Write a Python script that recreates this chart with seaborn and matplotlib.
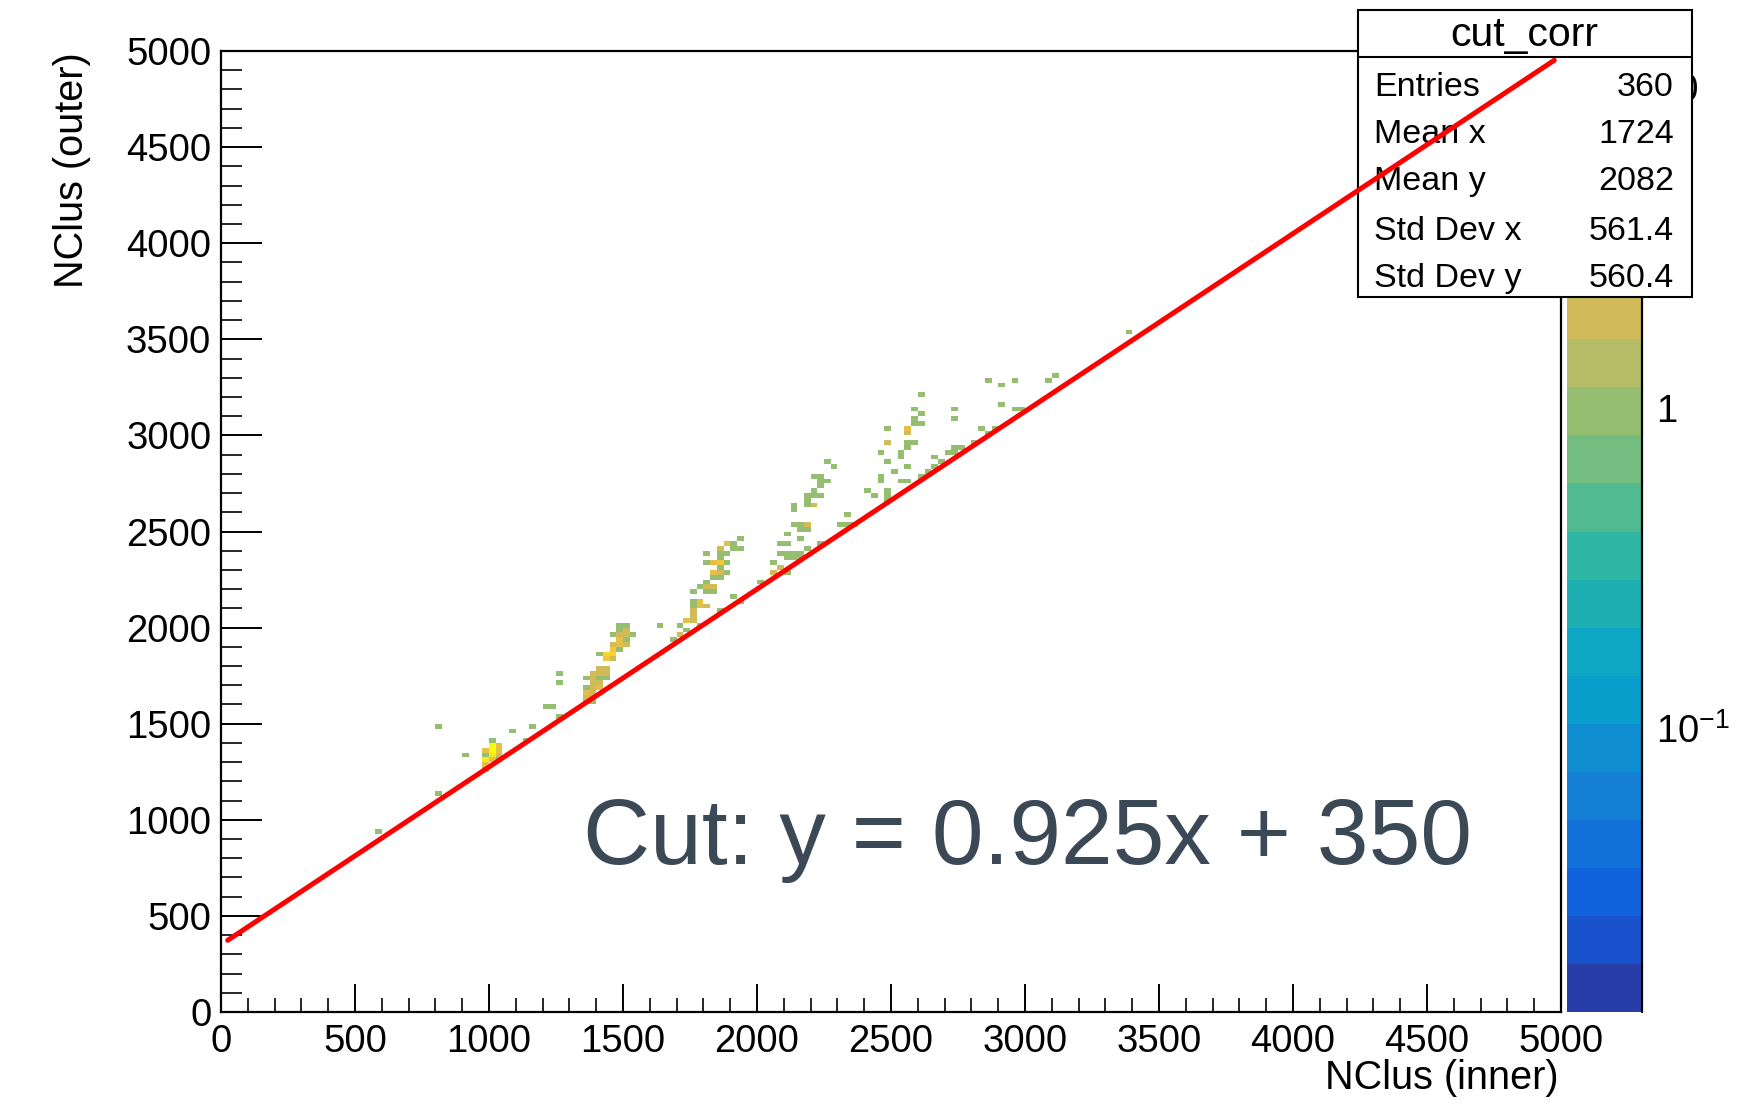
import numpy as np
import pandas as pd
import matplotlib
matplotlib.use("Agg")
import matplotlib.pyplot as plt
from matplotlib.colors import ListedColormap, LogNorm
from matplotlib.ticker import MultipleLocator, LogLocator, FixedLocator, FixedFormatter, NullFormatter
from matplotlib.patches import Rectangle
from matplotlib.lines import Line2D
import seaborn as sns

# ---------------------------------------------------------------- data
# filled cells of the 2D histogram: lower bin edges (bin width 25) and entries
inner_lo = [
    575, 800, 800, 900, 1000, 1025, 1025, 1000, 1000, 975, 975, 1000, 1025, 975,
    1000, 1025, 975, 975, 1075, 1150, 1125, 1200, 1225, 1250,
    1250, 1250, 1350, 1350, 1350, 1350, 1350, 1375, 1375, 1375, 1375, 1375, 1375,
    1375, 1400, 1400, 1400, 1400, 1400, 1400, 1425, 1425, 1425, 1425, 1425, 1450,
    1450, 1450, 1450, 1450, 1475, 1475, 1475, 1475, 1475, 1475, 1500, 1500, 1500,
    1500, 1500, 1525, 1625, 1675, 1700, 1700, 1725, 1725, 1750, 1750, 1750, 1750,
    1750, 1750, 1775, 1775, 1775, 1775, 1800, 1800, 1800, 1800, 1800, 1800, 1825,
    1825, 1825, 1825, 1825, 1850, 1850, 1850, 1850, 1850, 1850, 1850, 1850, 1875,
    1875, 1875, 1875, 1900, 1900, 1900, 1925, 1925, 1925, 2000,
    2050, 2050, 2075, 2075, 2075, 2100, 2100, 2100, 2100, 2100, 2125, 2125, 2125,
    2125, 2125, 2150, 2150, 2150, 2150, 2150, 2175, 2175, 2175, 2175, 2175, 2175,
    2200, 2200, 2200, 2200, 2225, 2225, 2225, 2225, 2225, 2250, 2250, 2275, 2300,
    2325, 2350, 2325, 2400, 2425, 2450, 2450, 2450, 2475, 2475, 2475, 2475, 2475,
    2475, 2500, 2525, 2525, 2525, 2550, 2550, 2550, 2550, 2550, 2550, 2575, 2575,
    2575, 2575, 2600, 2600, 2600, 2600, 2625, 2650, 2650, 2675, 2700, 2725, 2725,
    2725, 2725, 2750, 2800, 2825, 2850, 2875, 2850, 2900, 2900, 2950, 2975, 2950,
    3075, 3100, 3375,
]
outer_lo = [
    925, 1475, 1125, 1325, 1400, 1375, 1350, 1375, 1350, 1350, 1325, 1325, 1325, 1300,
    1300, 1300, 1275, 1250, 1450, 1475, 1400, 1575, 1575, 1525,
    1750, 1700, 1725, 1675, 1650, 1625, 1600, 1600, 1625, 1650, 1675, 1700, 1725,
    1750, 1675, 1700, 1725, 1750, 1775, 1850, 1725, 1750, 1775, 1825, 1850, 1825,
    1850, 1875, 1900, 1950, 1875, 1900, 1925, 1950, 1975, 2000, 1900, 1925, 1950,
    1975, 2000, 1950, 2000, 1925, 1950, 2000, 1975, 2025, 2025, 2050, 2075, 2100,
    2125, 2175, 2000, 2100, 2125, 2200, 2100, 2175, 2200, 2225, 2325, 2375, 2175,
    2200, 2250, 2275, 2325, 2075, 2250, 2275, 2300, 2325, 2350, 2375, 2400, 2275,
    2325, 2375, 2425, 2150, 2400, 2425, 2125, 2400, 2450, 2225,
    2275, 2325, 2300, 2375, 2425, 2275, 2350, 2375, 2425, 2475, 2350, 2375, 2525,
    2600, 2625, 2350, 2375, 2450, 2500, 2525, 2400, 2500, 2525, 2625, 2650, 2675,
    2625, 2675, 2700, 2775, 2425, 2675, 2725, 2750, 2775, 2750, 2850, 2825, 2525,
    2525, 2525, 2575, 2700, 2675, 2750, 2775, 2900, 2650, 2675, 2700, 2850, 2950,
    3025, 2800, 2750, 2875, 2900, 2750, 2825, 2925, 2950, 3000, 3025, 2950, 3050,
    3075, 3125, 2775, 3050, 3100, 3200, 2800, 2825, 2875, 2850, 2900, 2900, 2925,
    3075, 3125, 2925, 2950, 3025, 3000, 3025, 3275, 3150, 3250, 3125, 3125, 3275,
    3275, 3300, 3525,
]
entries = [
    1, 1, 1, 1, 1, 3, 3, 11, 10, 3, 1, 7, 2, 8,
    3, 1, 3, 1, 1, 1, 1, 1, 1, 1,
    1, 1, 1, 1, 3, 2, 1, 1, 2, 2, 2, 2, 2,
    2, 3, 2, 1, 2, 2, 1, 1, 2, 2, 4, 5, 2,
    5, 4, 2, 1, 1, 3, 3, 2, 1, 1, 2, 1, 2,
    2, 1, 1, 1, 1, 2, 1, 1, 3, 2, 2, 2, 1,
    1, 1, 1, 3, 3, 1, 2, 1, 2, 1, 1, 1, 1,
    2, 1, 3, 3, 1, 1, 2, 1, 4, 1, 1, 2, 1,
    1, 1, 3, 1, 1, 1, 1, 1, 1, 1,
    2, 1, 2, 1, 1, 1, 1, 1, 1, 1, 1, 1, 1,
    1, 1, 1, 1, 1, 1, 1, 1, 1, 2, 1, 1, 1,
    2, 1, 1, 1, 1, 1, 1, 1, 1, 1, 1, 1, 1,
    1, 1, 1, 1, 1, 1, 1, 1, 1, 1, 1, 1, 2,
    1, 1, 1, 1, 1, 1, 1, 1, 1, 2, 3, 1, 1,
    1, 1, 1, 1, 1, 1, 1, 1, 1, 1, 1, 1, 1,
    1, 1, 1, 1, 1, 1, 1, 1, 1, 1, 1, 1, 1,
    1, 1, 1,
]

BIN_W = 25
N_BINS = 200
AXIS_RANGE = (0, 5000)
Z_MIN, Z_MAX = 0.013, 13.0

# cut line drawn on top of the correlation
cut_slope, cut_offset = 0.925, 350
cut_x = [25, 4975]

stat_names = ["Entries", "Mean x", "Mean y", "Std Dev x", "Std Dev y"]
stat_values = ["360", "1724", "2082", "561.4", "560.4"]

# ---------------------------------------------------------------- style
sns.set_theme(style="white")
plt.rcParams["font.family"] = ["Liberation Sans", "DejaVu Sans"]
plt.rcParams["mathtext.fontset"] = "custom"
plt.rcParams["mathtext.rm"] = "Liberation Sans"
plt.rcParams["mathtext.it"] = "Liberation Sans:italic"
plt.rcParams["mathtext.default"] = "regular"

# ROOT "bird" palette, sampled at 20 contour levels
stops = [0.0, 0.125, 0.25, 0.375, 0.5, 0.625, 0.75, 0.875, 1.0]
red = [0.2082, 0.0592, 0.0780, 0.0232, 0.1802, 0.5301, 0.8186, 0.9956, 0.9764]
green = [0.1664, 0.3599, 0.5041, 0.6419, 0.7178, 0.7492, 0.7328, 0.7862, 0.9832]
blue = [0.5293, 0.8684, 0.8385, 0.7914, 0.6425, 0.4662, 0.3499, 0.1968, 0.0539]
n_levels = 20
pos = np.floor((np.arange(n_levels) + 0.99) * 255 / n_levels) / 254
bird = ListedColormap(np.column_stack([np.interp(pos, stops, red),
                                       np.interp(pos, stops, green),
                                       np.interp(pos, stops, blue)]))

W, H = 1742, 1106
fig = plt.figure(figsize=(W / 100, H / 100), dpi=100)
fig.patch.set_facecolor("white")


def fx(px):
    return px / W


def fy(py):
    return 1 - py / H


ax = fig.add_axes([fx(221), fy(1012), 1340 / W, 961 / H])
ax.set_zorder(0)

df = pd.DataFrame({
    "inner": np.asarray(inner_lo, float) + BIN_W / 2,
    "outer": np.asarray(outer_lo, float) + BIN_W / 2,
    "n": entries,
})
sns.histplot(data=df, x="inner", y="outer", weights="n", bins=N_BINS,
             binrange=(AXIS_RANGE, AXIS_RANGE), cmap=bird, ax=ax)
mesh = ax.collections[0]
mesh.set_norm(LogNorm(vmin=Z_MIN, vmax=Z_MAX))
mesh.set_antialiased(False)

ax.set_xlim(*AXIS_RANGE)
ax.set_ylim(*AXIS_RANGE)
ax.set_xlabel("")
ax.set_ylabel("")
ax.xaxis.set_major_locator(MultipleLocator(500))
ax.xaxis.set_minor_locator(MultipleLocator(100))
ax.yaxis.set_major_locator(MultipleLocator(500))
ax.yaxis.set_minor_locator(MultipleLocator(100))
ax.tick_params(axis="x", which="major", direction="in", length=20, width=1.4,
               pad=9, labelsize=27.5, colors="black", bottom=True, top=False)
ax.tick_params(axis="x", which="minor", direction="in", length=10, width=1.4,
               bottom=True, top=False)
ax.tick_params(axis="y", which="major", direction="in", length=29.5, width=1.4,
               pad=7, labelsize=27.5, colors="black", left=True, right=False)
ax.tick_params(axis="y", which="minor", direction="in", length=14.8, width=1.4,
               left=True, right=False)
for s in ax.spines.values():
    s.set_visible(True)
    s.set_color("black")
    s.set_linewidth(1.6)

fig.canvas.draw()
xt = ax.get_xticklabels()
xt[-1].set_horizontalalignment("right")

# axis titles, right/top aligned at the axis ends
fig.text(fx(1559), fy(1078), "NClus (inner)", ha="right", va="center",
         fontsize=28.5, color="black")
fig.text(fx(72), fy(52), "NClus (outer)", ha="center", va="top",
         rotation=90, fontsize=28.5, color="black")

# ---------------------------------------------------------------- palette axis
cax = fig.add_axes([fx(1566.5), fy(1012), 75.5 / W, 961 / H])
cax.set_zorder(0)
cbar = fig.colorbar(mesh, cax=cax)
cbar.outline.set_visible(False)
cax.yaxis.set_ticks_position("right")
cax.yaxis.set_major_locator(FixedLocator([0.1, 1, 10]))
cax.yaxis.set_major_formatter(FixedFormatter(["$10^{-1}$", "1", "10"]))
cax.yaxis.set_minor_locator(LogLocator(base=10, subs=np.arange(2, 10)))
cax.yaxis.set_minor_formatter(NullFormatter())
cax.tick_params(axis="y", which="major", direction="in", length=28, width=1.4,
                pad=10, labelsize=27.5, colors="black")
cax.tick_params(axis="y", which="minor", direction="in", length=14.4, width=1.4)
cax.add_line(Line2D([1, 1], [0, 1], transform=cax.transAxes, color="black",
                    lw=1.6, clip_on=False))

# ---------------------------------------------------------------- stats box
box_l, box_r, box_t, box_b = 1358, 1692, 10, 297
fig.patches.append(Rectangle((fx(box_l), fy(box_b)), (box_r - box_l) / W,
                             (box_b - box_t) / H, transform=fig.transFigure,
                             facecolor="white", edgecolor="black", lw=1.5,
                             zorder=1))
fig.lines.append(Line2D([fx(box_l), fx(box_r)], [fy(57), fy(57)],
                        transform=fig.transFigure, color="black", lw=1.5,
                        zorder=1.2))
fig.text(fx(1524), fy(46), "cut_corr", ha="center", va="baseline",
         fontsize=29.5, color="black", zorder=1.5)
for k, (name, val) in enumerate(zip(stat_names, stat_values)):
    base = [96, 143, 190, 240, 287][k]
    fig.text(fx(1374), fy(base), name, ha="left", va="baseline",
             fontsize=24.5, color="black", zorder=1.5)
    fig.text(fx(1674), fy(base), val, ha="right", va="baseline",
             fontsize=24.5, color="black", zorder=1.5)

# ---------------------------------------------------------------- cut line
ax_cut = fig.add_axes(ax.get_position())
ax_cut.set_zorder(2)
ax_cut.patch.set_visible(False)
cut_y = [cut_slope * v + cut_offset for v in cut_x]
sns.lineplot(x=cut_x, y=cut_y, ax=ax_cut, color="#ff0000", lw=3.6)
ax_cut.set_xlim(*AXIS_RANGE)
ax_cut.set_ylim(*AXIS_RANGE)
ax_cut.axis("off")

ax.text(0.270, 0.154, "Cut: y = 0.925x + 350", transform=ax.transAxes,
        ha="left", va="baseline", fontsize=67, color="#3b4856")

fig.savefig("out.png", dpi=100, facecolor="white")
